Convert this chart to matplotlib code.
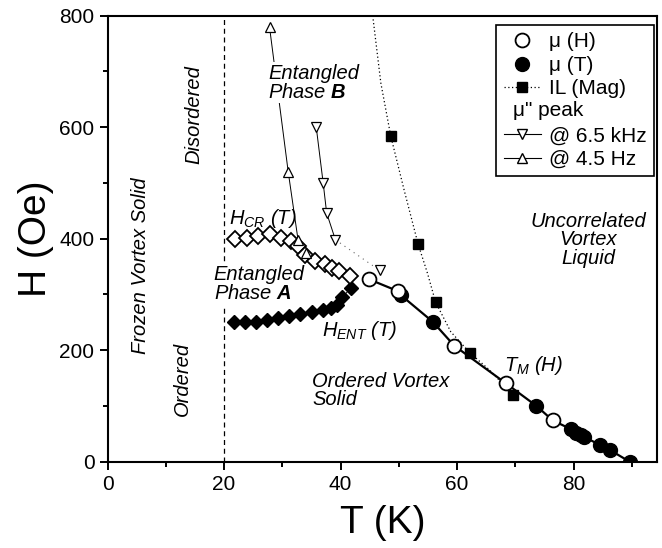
import matplotlib
matplotlib.use("Agg")
import matplotlib.pyplot as plt
import numpy as np
from matplotlib.lines import Line2D
from matplotlib.text import Text
from matplotlib.legend_handler import HandlerBase

# --- data: T in K, H in Oe ---
muH_T = [44.9, 49.8, 59.5, 68.3, 76.4]
muH_H = [327, 306, 208, 141, 74]

muT_T = [50.3, 55.8, 73.6, 79.6, 80.4, 81.2, 81.7, 84.5, 86.2, 89.6]
muT_H = [299, 251, 100, 58, 52, 48, 45, 30, 21, 0]

il_T = [48.6, 53.3, 56.3, 62.2, 69.6]
il_H = [584, 390, 286, 195, 120]
# dotted guide through the IL points
il_line_T = [45.5, 46.9, 48.6, 50.9, 53.3, 54.9, 56.3, 58.9, 62.2, 65.5, 67.5, 69.6]
il_line_H = [800, 679, 584, 487, 390, 338, 286, 233, 195, 165, 143, 120]

khz_T = [35.8, 37.0, 37.6, 39.1, 46.7]
khz_H = [601, 500, 446, 398, 343]

hz_T = [27.8, 31.0, 32.7, 34.0]
hz_H = [779, 520, 397, 374]

hcr_T = [21.9, 23.9, 25.9, 27.8, 29.7, 31.4, 32.6, 33.8, 35.6, 37.3, 38.5, 39.8, 41.6]
hcr_H = [400, 401, 404, 408, 402, 396, 387, 370, 360, 355, 348, 342, 333]

hent_T = [21.7, 23.6, 25.5, 27.4, 29.3, 31.2, 33.1, 35.0, 36.9, 38.4, 39.3, 40.3, 41.8]
hent_H = [250, 250, 251, 254, 257, 261, 265, 268, 272, 276, 281, 295, 312]

T_freeze = 20


class TextHandler(HandlerBase):
    """legend row that is only a centred caption"""
    def create_artists(self, legend, orig_handle, xdescent, ydescent,
                       width, height, fontsize, trans):
        t = Text(-xdescent + 7, -ydescent + height / 2, 'μ" peak',
                 fontsize=fontsize, va="center", ha="left")
        t.set_transform(trans)
        return [t]


def main():
    plt.rcParams.update({
        "font.family": "Liberation Sans",
        "mathtext.fontset": "custom",
        "mathtext.rm": "Liberation Sans",
        "mathtext.it": "Liberation Sans:italic",
        "mathtext.bf": "Liberation Sans:bold",
        "mathtext.bfit": "Liberation Sans:bold:italic",
    })

    fig = plt.figure(figsize=(6.62, 5.48), dpi=100)
    ax = fig.add_axes([0.1625, 0.1575, 0.830, 0.814])

    ax.axvline(T_freeze, color="k", ls=(0, (4, 3)), lw=0.9, zorder=1)

    # melting line through both mu data sets
    tm_T = np.array(muH_T + muT_T)
    tm_H = np.array(muH_H + muT_H)
    order = np.argsort(tm_T)
    ax.plot(tm_T[order], tm_H[order], "k-", lw=1.6, zorder=2)

    ax.plot(il_line_T, il_line_H, color="k", ls=(0, (1, 2)), lw=0.9, zorder=2)
    ax.plot(il_T, il_H, "ks", ms=7, zorder=4)

    ax.plot(khz_T[:4], khz_H[:4], color="k", lw=0.7, zorder=2)
    ax.plot(khz_T[3:], khz_H[3:], color="0.4", ls=(0, (1, 4)), lw=0.8, zorder=2)
    ax.plot(khz_T, khz_H, "v", mfc="white", mec="k", mew=0.9, ms=7, zorder=5)

    ax.plot(hz_T, hz_H, color="k", lw=0.7, zorder=2)
    ax.plot(hz_T, hz_H, "^", mfc="white", mec="k", mew=0.9, ms=7, zorder=5)

    ax.plot(hent_T, hent_H, color="k", lw=0.7, zorder=2)
    ax.plot(hent_T, hent_H, "D", color="k", ms=7.5, zorder=3)
    ax.plot(hcr_T, hcr_H, "D", mfc="white", mec="k", mew=1.3, ms=8, zorder=3)

    ax.plot(muT_T, muT_H, "o", color="k", ms=10, zorder=4)
    ax.plot(muH_T, muH_H, "o", mfc="white", mec="k", mew=1.3, ms=10, zorder=4)

    # region labels
    it = dict(fontsize=14.5, fontstyle="italic")
    white = dict(facecolor="white", edgecolor="none", pad=1)
    ax.text(5.6, 352, "Frozen Vortex Solid", rotation=90, ha="center", va="center", **it)
    ax.text(14.8, 623, "Disordered", rotation=90, ha="center", va="center", **it)
    ax.text(12.9, 148, "Ordered", rotation=90, ha="center", va="center", **it)
    ax.text(20.9, 437, r"$H_{CR}$ (T)", ha="left", va="center", **it)
    ax.text(27.6, 680, "Entangled\nPhase $\\mathbfit{B}$", ha="left", va="center",
            linespacing=1.0, bbox=white, zorder=3, **it)
    ax.text(18.2, 318, "Entangled\nPhase $\\mathbfit{A}$", ha="left", va="center",
            linespacing=1.0, bbox=white, zorder=3, **it)
    ax.text(36.8, 235, r"$H_{ENT}$ (T)", ha="left", va="center", **it)
    ax.text(35.1, 128, "Ordered Vortex\nSolid", ha="left", va="center",
            linespacing=0.95, **it)
    ax.text(82.5, 398, "Uncorrelated\nVortex\nLiquid", ha="center", va="center",
            linespacing=0.95, **it)
    ax.text(68.1, 173, r"$T_M$ (H)", ha="left", va="center", **it)

    handles = [
        Line2D([], [], ls="none", marker="o", mfc="white", mec="k", mew=1.3, ms=10),
        Line2D([], [], ls="none", marker="o", color="k", ms=10),
        Line2D([], [], color="k", ls=(0, (1, 2)), lw=0.9, marker="s", ms=7),
        Line2D([], [], ls="none"),
        Line2D([], [], color="k", lw=0.8, marker="v", mfc="white", mec="k", ms=7),
        Line2D([], [], color="k", lw=0.8, marker="^", mfc="white", mec="k", ms=7),
    ]
    labels = ["μ (H)", "μ (T)", "IL (Mag)", "", "@ 6.5 kHz", "@ 4.5 Hz"]
    leg = ax.legend(handles, labels, loc="upper right", bbox_to_anchor=(0.995, 0.979),
                    fontsize=15, frameon=True, fancybox=False, handlelength=1.8,
                    handletextpad=0.4, labelspacing=0.22, borderpad=0.35,
                    borderaxespad=0, handler_map={handles[3]: TextHandler()})
    leg.get_frame().set_edgecolor("k")
    leg.get_frame().set_linewidth(1.2)
    leg.get_frame().set_alpha(1)

    ax.set_xlim(0, 94.3)
    ax.set_ylim(0, 800)
    ax.set_xticks([0, 20, 40, 60, 80])
    ax.set_xticks(np.arange(10, 95, 20), minor=True)
    ax.set_yticks([0, 200, 400, 600, 800])
    ax.set_yticks([100, 300, 500, 700], minor=True)
    ax.tick_params(which="both", direction="out", width=1.4, labelsize=15,
                   top=False, right=False)
    ax.tick_params(which="major", length=6)
    ax.tick_params(which="minor", length=3.5)
    for sp in ax.spines.values():
        sp.set_linewidth(1.5)

    ax.set_xlabel("T (K)", fontsize=28, labelpad=8)
    ax.set_ylabel("H (Oe)", fontsize=28, labelpad=4)

    fig.savefig("out.png", dpi=100)


if __name__ == "__main__":
    main()
